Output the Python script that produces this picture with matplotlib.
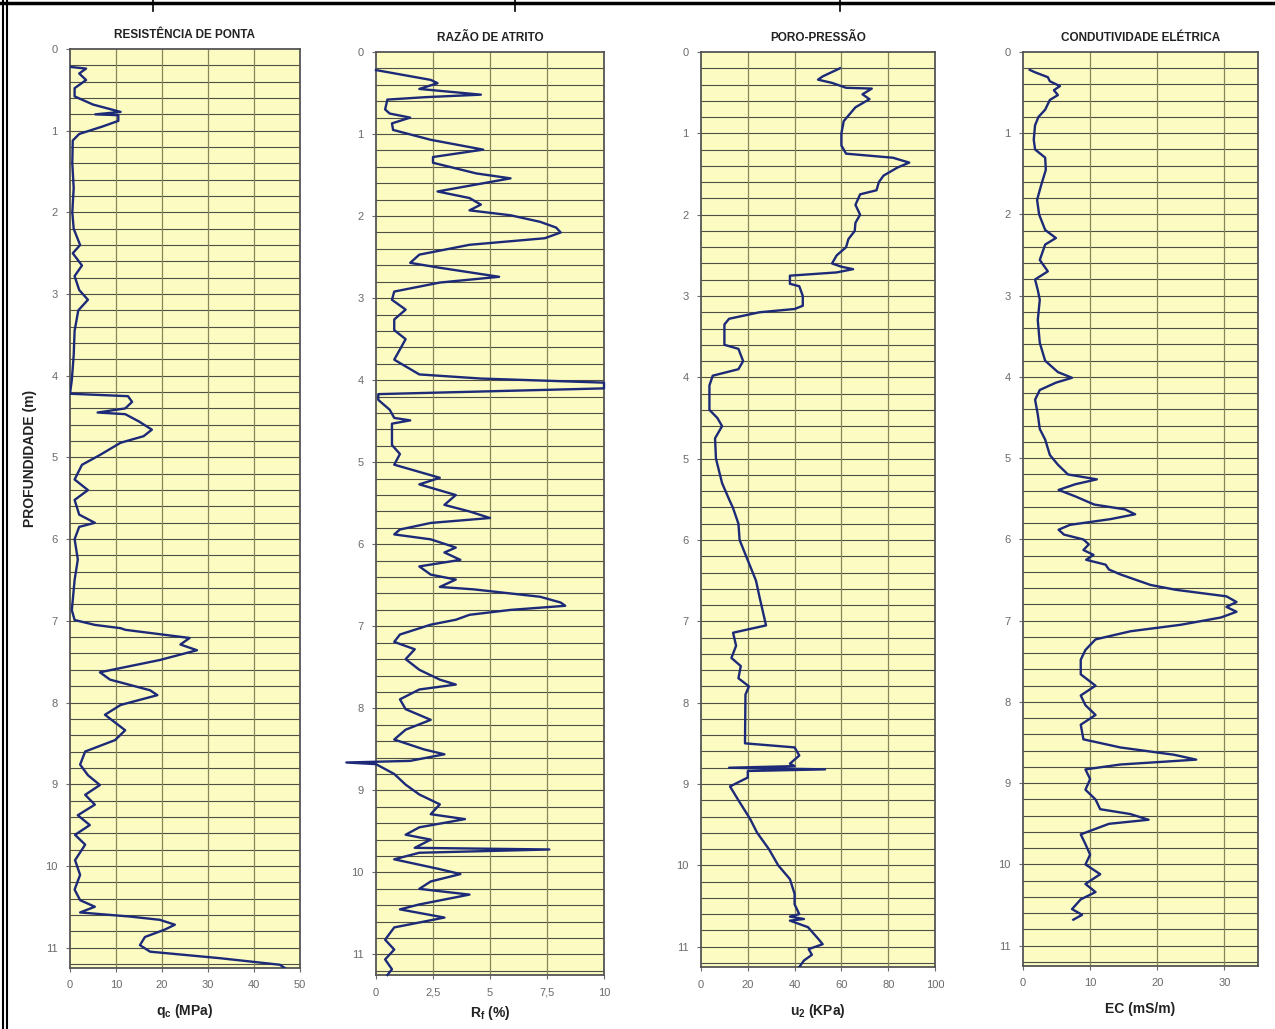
import matplotlib
matplotlib.use("Agg")
import matplotlib.pyplot as plt
from matplotlib.lines import Line2D
import numpy as np

plt.rcParams['font.family'] = ['Liberation Sans', 'DejaVu Sans']

# ---------------- data ----------------
titles = ["RESISTÊNCIA DE PONTA", "RAZÃO DE ATRITO", "PORO-PRESSÃO", "CONDUTIVIDADE ELÉTRICA"]
xlabels = [r"q$_\mathregular{c}$ (MPa)", r"R$_\mathregular{f}$ (%)", r"u$_\mathregular{2}$ (KPa)", "EC (mS/m)"]
depth_ticks = list(range(0, 12))

qc_ticks = [0, 10, 20, 30, 40, 50]
qc_ticklabels = ["0", "10", "20", "30", "40", "50"]
rf_ticks = [0, 2.5, 5, 7.5, 10]
rf_ticklabels = ["0", "2,5", "5", "7,5", "10"]
u2_ticks = [0, 20, 40, 60, 80, 100]
u2_ticklabels = ["0", "20", "40", "60", "80", "100"]
ec_ticks = [0, 10, 20, 30]
ec_ticklabels = ["0", "10", "20", "30"]

qc_depth = [0.22, 0.24, 0.30, 0.38, 0.48, 0.58, 0.68, 0.77, 0.80, 0.81, 0.88, 0.95, 1.04, 1.12, 1.4, 1.7,
            2.0, 2.2, 2.4, 2.5, 2.65, 2.78, 2.95, 3.07, 3.2, 3.45, 3.75, 4.05, 4.22, 4.25, 4.32, 4.4,
            4.45, 4.47, 4.56, 4.66, 4.74, 4.82, 4.97, 5.09, 5.27, 5.4, 5.52, 5.7, 5.8, 5.85, 6.0, 6.25,
            6.5, 6.87, 6.99, 7.05, 7.09, 7.11, 7.21, 7.29, 7.36, 7.48, 7.63, 7.72, 7.85, 7.91, 8.03,
            8.15, 8.34, 8.46, 8.6, 8.76, 8.89, 9.01, 9.13, 9.25, 9.38, 9.5, 9.62, 9.74, 9.93, 10.11,
            10.29, 10.42, 10.5, 10.57, 10.62, 10.66, 10.72, 10.78, 10.87, 10.97, 11.05, 11.13, 11.21, 11.25]
qc_val = [0.2, 3.5, 2.0, 3.5, 1.0, 1.0, 5.0, 11.0, 5.5, 10.5, 10.5, 7.0, 2.0, 0.6, 0.5, 0.8,
          0.5, 0.8, 2.2, 0.6, 2.6, 1.0, 2.0, 3.9, 1.8, 1.0, 0.8, 0.4, 0.0, 12.6, 13.5, 12.0,
          6.0, 12.0, 15.0, 17.8, 16.0, 11.0, 6.5, 2.6, 1.0, 3.9, 1.0, 2.0, 5.4, 2.0, 1.0, 1.7,
          1.0, 0.4, 1.0, 5.4, 11.0, 12.0, 26.0, 24.0, 27.6, 19.5, 6.5, 8.7, 17.4, 19.0, 11.0,
          7.6, 12.0, 9.8, 3.3, 2.2, 3.9, 6.5, 3.3, 5.4, 1.7, 4.3, 1.1, 3.3, 1.1, 2.2,
          1.0, 2.2, 5.4, 2.2, 13.0, 19.5, 22.8, 20.6, 16.3, 15.2, 17.4, 32.6, 45.6, 46.7]

rf_depth = [0.22, 0.34, 0.38, 0.45, 0.52, 0.55, 0.58, 0.7, 0.75, 0.8, 0.87, 0.95, 1.07, 1.19, 1.28, 1.35,
            1.48, 1.54, 1.7, 1.78, 1.86, 1.93, 1.99, 2.07, 2.14, 2.2, 2.27, 2.35, 2.47, 2.57, 2.63,
            2.74, 2.81, 2.92, 3.02, 3.14, 3.26, 3.39, 3.5, 3.75, 3.93, 3.98, 4.03, 4.1, 4.17, 4.24,
            4.36, 4.46, 4.49, 4.53, 4.79, 4.9, 5.03, 5.19, 5.27, 5.4, 5.52, 5.6, 5.68, 5.74, 5.82,
            5.88, 5.94, 6.04, 6.1, 6.19, 6.27, 6.37, 6.43, 6.52, 6.55, 6.64, 6.71, 6.75, 6.8, 6.86,
            6.92, 6.98, 7.1, 7.19, 7.28, 7.4, 7.53, 7.65, 7.71, 7.77, 7.89, 8.01, 8.14, 8.26, 8.38,
            8.5, 8.56, 8.64, 8.66, 8.68, 8.8, 8.93, 9.05, 9.17, 9.29, 9.35, 9.45, 9.54, 9.6, 9.7,
            9.72, 9.76, 9.84, 9.96, 10.02, 10.11, 10.2, 10.27, 10.39, 10.45, 10.55, 10.67, 10.82,
            10.94, 11.06, 11.18, 11.25]
rf_val = [0.0, 2.4, 2.7, 1.9, 4.6, 2.2, 0.5, 0.4, 0.6, 1.5, 0.7, 0.75, 2.4, 4.7, 2.5, 2.5,
          4.4, 5.9, 2.7, 4.1, 4.6, 4.1, 5.9, 7.2, 7.9, 8.1, 7.4, 4.1, 1.9, 1.5, 2.8,
          5.4, 2.8, 0.8, 0.7, 1.3, 0.8, 0.8, 1.3, 0.8, 1.9, 4.6, 10.0, 10.0, 0.1, 0.1,
          0.6, 0.8, 1.5, 0.7, 0.7, 1.05, 0.8, 2.8, 1.9, 3.5, 3.0, 4.1, 5.0, 2.4, 1.05,
          0.8, 2.4, 3.5, 3.0, 3.7, 1.9, 2.4, 3.5, 2.8, 4.3, 7.2, 8.1, 8.3, 5.9, 4.1,
          3.5, 2.4, 1.05, 0.8, 1.7, 1.3, 1.9, 2.8, 3.5, 1.9, 1.05, 1.3, 2.4, 1.3, 0.8,
          2.1, 3.0, 1.5, -1.3, 0.0, 0.8, 1.3, 1.9, 2.8, 2.4, 3.9, 1.9, 1.3, 2.4, 1.7,
          7.6, 1.9, 0.8, 2.8, 3.7, 2.4, 1.9, 4.1, 1.9, 1.05, 3.0, 0.8, 0.4,
          0.8, 0.4, 0.7, 0.5]

u2_depth = [0.2, 0.3, 0.34, 0.38, 0.44, 0.45, 0.52, 0.58, 0.68, 0.85, 1.0, 1.15, 1.25, 1.3, 1.36, 1.42,
            1.52, 1.6, 1.7, 1.75, 1.88, 2.0, 2.1, 2.2, 2.3, 2.4, 2.5, 2.6, 2.64, 2.67, 2.71, 2.75,
            2.85, 2.88, 3.0, 3.12, 3.16, 3.2, 3.28, 3.35, 3.6, 3.65, 3.8, 3.9, 3.98, 4.1, 4.4, 4.5,
            4.6, 4.75, 5.0, 5.3, 5.5, 5.6, 5.8, 6.0, 6.3, 6.5, 6.7, 7.05, 7.14, 7.3, 7.45, 7.55,
            7.7, 7.8, 7.9, 8.5, 8.55, 8.65, 8.75, 8.78, 8.80, 8.82, 8.84, 8.92, 9.03, 9.2, 9.43,
            9.6, 9.8, 10.0, 10.17, 10.35, 10.48, 10.6, 10.63, 10.66, 10.68, 10.76, 10.9, 10.97,
            11.03, 11.1, 11.17, 11.25]
u2_val = [59.4, 52, 50, 56, 62, 73, 69, 72, 66, 61, 60, 60, 62, 82, 89, 84,
          78, 76, 75, 68, 66, 68, 66, 65.7, 63, 62, 58, 56, 60, 65, 58, 38,
          38, 42, 43.5, 43.5, 40, 25, 12, 10, 10, 16, 18, 16, 5, 3.6, 3.6, 7,
          9, 6, 6.4, 9, 12, 13.6, 16, 16.5, 20.7, 23.5, 25, 27.8, 13.7, 15, 13, 17,
          16, 20.5, 19, 18.8, 40, 42, 38, 40, 12, 53, 20, 20, 12.4, 16, 21,
          24, 29, 33, 38, 40, 40, 42, 38, 44, 38, 45.7, 50, 52,
          46, 47.4, 44, 42]

ec_depth = [0.22, 0.25, 0.31, 0.36, 0.42, 0.47, 0.53, 0.59, 0.71, 0.8, 0.9, 1.08, 1.2, 1.3, 1.45, 1.64,
            1.82, 2.0, 2.19, 2.29, 2.37, 2.56, 2.7, 2.8, 2.93, 3.05, 3.3, 3.58, 3.8, 3.94, 4.01,
            4.07, 4.16, 4.28, 4.46, 4.64, 4.77, 4.96, 5.08, 5.2, 5.26, 5.32, 5.39, 5.47, 5.57, 5.63,
            5.69, 5.75, 5.82, 5.88, 5.94, 6.0, 6.06, 6.13, 6.19, 6.25, 6.31, 6.37, 6.43, 6.56, 6.62,
            6.7, 6.77, 6.83, 6.89, 6.96, 7.05, 7.13, 7.23, 7.36, 7.48, 7.66, 7.8, 7.92, 8.04, 8.16,
            8.28, 8.46, 8.56, 8.65, 8.71, 8.77, 8.83, 8.95, 9.08, 9.2, 9.32, 9.38, 9.45, 9.5, 9.63,
            9.75, 9.88, 10.0, 10.12, 10.24, 10.34, 10.43, 10.55, 10.62, 10.68]
ec_val = [1.0, 1.8, 3.7, 4.0, 5.5, 4.6, 5.2, 4.0, 3.3, 2.3, 1.8, 1.6, 1.8, 3.3, 3.4, 2.7,
          2.1, 2.4, 3.3, 4.9, 3.3, 2.5, 3.7, 1.8, 2.2, 2.5, 2.2, 2.5, 3.3, 5.2, 7.3,
          4.9, 2.5, 1.8, 2.2, 2.5, 3.3, 4.0, 5.2, 6.7, 11.0, 7.8, 5.3, 7.8, 10.6, 15.2,
          16.7, 13.0, 7.0, 5.3, 6.1, 9.0, 9.8, 9.0, 10.5, 9.4, 12.3, 12.8, 14.5, 19.0, 22.8,
          30.3, 31.8, 30.3, 31.8, 29.5, 23.5, 16.0, 10.8, 9.3, 8.6, 8.6, 10.8, 8.6, 9.3, 10.8,
          8.6, 9.0, 14.5, 22.5, 25.8, 14.5, 9.3, 10.0, 9.3, 10.8, 11.5, 16.0, 18.7, 12.8, 8.6,
          9.3, 10.0, 9.3, 11.5, 9.3, 10.8, 8.6, 7.3, 8.8, 7.5]

# ---------------- layout ----------------
W, H = 1275, 1029
fig = plt.figure(figsize=(W / 100, H / 100), dpi=100)
fig.patch.set_facecolor("white")

# (left, top, right, bottom) in pixels
panel_px = [(70, 49, 300, 968), (376, 52, 604, 975), (701, 52, 935, 967), (1023, 52, 1258, 966)]
xlabel_top_px = [1002, 1004, 1002, 1002]

panel_data = [(qc_depth, qc_val, qc_ticks, qc_ticklabels, (0, 50)),
              (rf_depth, rf_val, rf_ticks, rf_ticklabels, (0, 10)),
              (u2_depth, u2_val, u2_ticks, u2_ticklabels, (0, 100)),
              (ec_depth, ec_val, ec_ticks, ec_ticklabels, (0, 35))]

bg = "#fbfbc2"
hgrid = "#4f4f45"
vgrid = "#86865a"
line_col = "#1c2a78"
tick_col = "#6a6a6a"

for i, ((l, t, r, b), (dep, val, xt, xtl, xl)) in enumerate(zip(panel_px, panel_data)):
    ax = fig.add_axes([l / W, 1 - b / H, (r - l) / W, (b - t) / H])
    ax.set_facecolor(bg)
    ax.set_xlim(*xl)
    ax.set_ylim(11.25, 0)
    for yy in np.arange(0.2, 11.25, 0.2):
        ax.axhline(yy, color=hgrid, lw=0.8, zorder=1)
    for xx in xt[1:]:
        if xx < xl[1]:
            ax.axvline(xx, color=vgrid, lw=0.9, zorder=1)
    ax.plot(val, dep, color=line_col, lw=1.7, zorder=3, clip_on=(i != 1))
    ax.set_xticks(xt)
    ax.set_xticklabels(xtl)
    ax.set_yticks(depth_ticks)
    ax.set_yticklabels([str(v) for v in depth_ticks])
    ax.tick_params(axis='both', direction='out', length=3, width=0.8, colors=tick_col,
                   labelsize=8, labelcolor=tick_col, pad=6)
    for s in ax.spines.values():
        s.set_color("#555555")
        s.set_linewidth(1.3)
    ax.set_title(titles[i], fontsize=8.5, fontweight='bold', color="#222222", pad=8)
    ax.set_xlabel(xlabels[i], fontsize=10, fontweight='bold', color="#222222")
    hpx = b - t
    ax.xaxis.set_label_coords(0.5, -(xlabel_top_px[i] - b) / hpx)
    if i == 0:
        ax.set_ylabel("PROFUNDIDADE (m)", fontsize=10, fontweight='bold', color="#222222")
        ax.yaxis.set_label_coords((30 - l) / (r - l), 1 - (458 - t) / hpx)
        ax.yaxis.label.set_verticalalignment('center')

# outer table borders
def fline(x0, y0, x1, y1, lw):
    fig.add_artist(Line2D([x0 / W, x1 / W], [1 - y0 / H, 1 - y1 / H],
                          transform=fig.transFigure, color="black", lw=lw))

fline(0, 3, W, 3, 2.5)
fline(3, 0, 3, H, 1.5)
fline(7, 0, 7, H, 1.5)
for xx in [153, 515, 840]:
    fline(xx, 0, xx, 11, 1.2)

fig.savefig("out.png", dpi=100, facecolor="white")
